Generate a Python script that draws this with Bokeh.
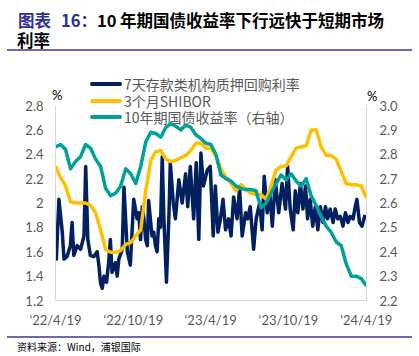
import numpy as np
from bokeh.plotting import figure
from bokeh.layouts import column
from bokeh.models import Range1d, LinearAxis, FixedTicker, NumeralTickFormatter, Div
from bokeh.embed import file_html
from bokeh.resources import INLINE

# ---------------- data ----------------
# x = days since 2022-04-19
tick_days = [0, 183, 365, 548, 731]
tick_labels = ["‘22/4/19", "‘22/10/19", "‘23/4/19", "‘23/10/19", "‘24/4/19"]

dr007_days = [0, 2, 8, 16, 20, 27, 35, 39, 43, 51, 59, 67, 71, 76, 82, 90, 98, 102, 106, 110,
              114, 120, 125, 129, 133, 141, 145, 149, 157, 161, 169, 176, 184, 188, 192, 196, 200,
              204, 208, 212, 216, 219, 227, 231, 235, 239, 243, 247, 251, 255, 261, 267, 270, 277,
              282, 290, 298, 306, 311, 317, 325, 331, 337, 342, 348, 357, 364, 371, 376, 382, 388,
              394, 400, 407, 413, 419, 427, 433, 439, 447, 452, 458, 466, 472, 480, 486, 491, 498,
              504, 510, 517, 525, 533, 541, 546, 552, 559, 564, 570, 576, 582, 588, 593, 599, 605,
              611, 617, 623, 629, 635, 640, 646, 653, 658, 664, 670, 676, 682, 688, 693, 700, 705,
              709, 715, 721, 727, 731]
dr007 = [1.81, 1.54, 2.03, 1.76, 1.54, 1.56, 1.65, 1.84, 1.57, 1.65, 1.62, 1.73, 2.30, 1.70, 1.57,
         1.56, 1.60, 1.49, 1.34, 1.30, 1.40, 1.35, 1.51, 1.70, 1.43, 1.51, 1.40, 1.54, 1.62, 2.13,
         1.60, 1.49, 2.03, 1.95, 1.87, 1.92, 1.70, 1.97, 1.87, 1.70, 1.65, 2.02, 1.73, 1.76, 1.65,
         1.60, 1.87, 1.80, 2.38, 1.87, 1.35, 1.92, 2.33, 2.00, 1.87, 2.19, 2.00, 2.24, 1.97, 2.30,
         1.87, 2.33, 1.70, 2.41, 2.14, 2.27, 2.30, 1.73, 2.14, 1.76, 1.87, 2.03, 1.78, 1.87, 1.73,
         2.05, 1.87, 2.12, 1.73, 1.92, 1.87, 1.97, 1.62, 1.87, 2.00, 1.78, 2.22, 1.92, 2.08, 1.81,
         2.19, 1.92, 2.16, 1.95, 2.30, 1.95, 1.78, 2.10, 1.92, 2.16, 1.95, 2.14, 1.87, 2.03, 1.81,
         1.97, 1.78, 1.97, 1.84, 1.97, 1.87, 1.95, 1.84, 1.95, 1.87, 1.89, 1.81, 1.92, 1.84, 1.89,
         1.87, 1.97, 2.03, 1.84, 1.81, 1.89, 1.87]

shibor3m = [2.30, 2.21, 2.14, 2.01, 2.00, 2.00, 2.00, 1.98, 1.92, 1.78, 1.62, 1.595, 1.595, 1.61,
            1.66, 1.675, 1.73, 1.78, 2.10, 2.35, 2.42, 2.43, 2.36, 2.34, 2.35, 2.37, 2.39, 2.43,
            2.49, 2.49, 2.45, 2.45, 2.38, 2.28, 2.21, 2.16, 2.10, 2.15, 2.11, 2.08, 2.07, 2.07,
            2.03, 2.14, 2.27, 2.30, 2.305, 2.38, 2.45, 2.46, 2.47, 2.60, 2.60, 2.46, 2.39, 2.39,
            2.36, 2.26, 2.16, 2.15, 2.15, 2.14, 2.04]

cgb10y = [2.83, 2.84, 2.82, 2.74, 2.77, 2.79, 2.84, 2.825, 2.78, 2.75, 2.66, 2.63, 2.64, 2.67,
          2.74, 2.72, 2.68, 2.75, 2.85, 2.89, 2.885, 2.87, 2.91, 2.925, 2.915, 2.90, 2.92, 2.91,
          2.88, 2.865, 2.845, 2.84, 2.80, 2.715, 2.70, 2.69, 2.67, 2.66, 2.655, 2.655, 2.65, 2.58,
          2.60, 2.64, 2.68, 2.715, 2.695, 2.72, 2.69, 2.67, 2.70, 2.63, 2.59, 2.545, 2.505, 2.48,
          2.44, 2.425, 2.35, 2.30, 2.30, 2.29, 2.26]

series_labels = ["7天存款类机构质押回购利率", "3个月SHIBOR", "10年期国债收益率（右轴）"]
left_ticks = [1.2, 1.4, 1.6, 1.8, 2.0, 2.2, 2.4, 2.6, 2.8]
right_ticks = [2.2, 2.3, 2.4, 2.5, 2.6, 2.7, 2.8, 2.9, 3.0]

assert len(dr007_days) == len(dr007)
weekly_days = np.linspace(0, 731, len(cgb10y))

NAVY = "#002060"
GOLD = "#FFC000"
TEAL = "#00A19A"
GREY = "#595959"
RULE = "#7068A8"
FONT = "Lato"
CJK = "Noto Sans CJK SC"
W = 419
TITLE_H = 49    # title block
LEG_H = 81      # rule + legend + units block (49..130), overlapped by the chart
OVERLAP = 32
FIG_H = 238     # chart block, starts at 130 - OVERLAP = 98
BOT_H = 20      # source block

# ---------------- chart ----------------
p = figure(width=W, height=FIG_H, output_backend="svg", toolbar_location=None,
           x_range=Range1d(0, 731.5), y_range=Range1d(1.2, 2.8),
           min_border_left=55, min_border_right=53, min_border_top=7, min_border_bottom=36,
           background_fill_color=None, border_fill_color=None,
           margin=(-OVERLAP, 0, 0, 0))
p.title.visible = False
p.extra_y_ranges = {"r": Range1d(2.2, 3.0)}
p.outline_line_color = None
p.xgrid.visible = False
p.ygrid.visible = False
p.yaxis.visible = False
p.xaxis.visible = False

def style_axis(ax):
    ax.axis_line_color = "#D9D9D9"
    ax.axis_line_width = 1
    ax.major_tick_line_color = None
    ax.minor_tick_line_color = None
    ax.major_tick_out = 0
    ax.major_label_text_font = FONT
    ax.major_label_text_font_size = "13px"
    ax.major_label_text_color = GREY

xa = LinearAxis(ticker=FixedTicker(ticks=tick_days),
                major_label_overrides={d: t for d, t in zip(tick_days, tick_labels)})
style_axis(xa)
xa.major_label_standoff = 11
p.add_layout(xa, "below")

ya = LinearAxis(ticker=FixedTicker(ticks=left_ticks), formatter=NumeralTickFormatter(format="0.[0]"))
style_axis(ya)
ya.major_label_standoff = 12
p.add_layout(ya, "left")

yr = LinearAxis(y_range_name="r", ticker=FixedTicker(ticks=right_ticks),
                formatter=NumeralTickFormatter(format="0.0"))
style_axis(yr)
yr.major_label_standoff = 13
p.add_layout(yr, "right")

p.line(dr007_days, dr007, line_color=NAVY, line_width=3.5, line_join="round")
p.line(weekly_days, shibor3m, line_color=GOLD, line_width=3.5, line_join="round")
p.line(weekly_days, cgb10y, line_color=TEAL, line_width=3.5, line_join="round", y_range_name="r")

# ---------------- header / footer (HTML) ----------------
def txt(left, cy, text, size, color, font, weight="normal", lh=20):
    return (f'<span style="position:absolute;left:{left}px;top:{cy - lh / 2}px;line-height:{lh}px;'
            f'font-family:\'{font}\';font-size:{size}px;font-weight:{weight};color:{color};'
            f'white-space:nowrap">{text}</span>')

def bar(left, width, cy, thick, color, radius=0):
    return (f'<div style="position:absolute;left:{left}px;top:{cy - thick / 2}px;width:{width}px;'
            f'height:{thick}px;background:{color};border-radius:{radius}px"></div>')

def block(parts, h):
    return Div(text=f'<div style="position:relative;width:{W}px;height:{h}px">' + "".join(parts)
               + "</div>", width=W, height=h, margin=0)

title_parts = [txt(18, 20, "图表", 16.5, "#2E3192", CJK, "bold"),
               txt(61, 20, "16：", 16.5, "#2E3192", CJK, "bold"),
               txt(97, 20, "10", 16.5, "#000000", CJK, "bold"),
               txt(120, 20, "年期国债收益率下行远快于短期市场", 16.5, "#000000", CJK, "bold"),
               txt(17, 40, "利率", 16.5, "#000000", CJK, "bold")]

y0 = TITLE_H  # offset of the legend block
leg_parts = [bar(7, 405, 1, 2, RULE)]
for yy, col, lab in zip([84, 101, 117], [NAVY, GOLD, TEAL], series_labels):
    leg_parts.append(bar(90, 32, yy - y0, 4, col, 2))
    leg_parts.append(txt(124, yy - y0, lab, 14, GREY, CJK, lh=16))
leg_parts.append(txt(52, 95 - y0, "%", 13, "#000000", FONT, lh=16))
leg_parts.append(txt(367, 96 - y0, "%", 13, "#000000", FONT, lh=16))

foot_parts = [bar(7, 405, 1, 2, RULE),
              txt(17, 11, "资料来源：Wind，浦银国际", 10, "#000000", CJK, lh=14)]

layout = column(block(title_parts, TITLE_H), block(leg_parts, LEG_H), p, block(foot_parts, BOT_H),
                spacing=0, margin=0)
open("out.html", "w").write(file_html(layout, INLINE))
